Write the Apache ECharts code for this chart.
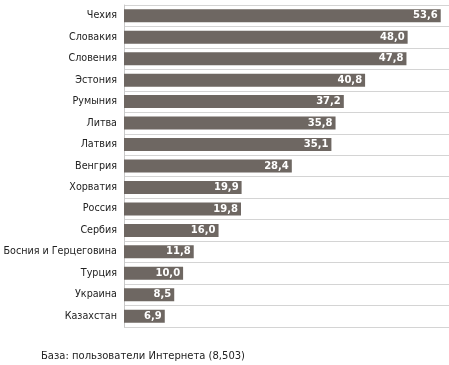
<!DOCTYPE html>
<html><head><meta charset="utf-8">
<script src="https://cdn.jsdelivr.net/npm/echarts@6/dist/echarts.min.js"></script>
<style>html,body{margin:0;padding:0;background:#fff}#c{width:449px;height:365px}</style>
</head><body><div id="c"></div>
<script>
const categories = ["Чехия","Словакия","Словения","Эстония","Румыния","Литва","Латвия","Венгрия","Хорватия","Россия","Сербия","Босния и Герцеговина","Турция","Украина","Казахстан"];
const values = [53.6,48.0,47.8,40.8,37.2,35.8,35.1,28.4,19.9,19.8,16.0,11.8,10.0,8.5,6.9];
const footnote = "База: пользователи Интернета (8,503)";

const chart = echarts.init(document.getElementById('c'), null, {renderer:'canvas'});
chart.setOption({
  animation:false,
  grid:{left:124, top:5, width:325, height:322, containLabel:false, outerBoundsMode:'none'},
  xAxis:{type:'value', min:0, max:55, show:false},
  yAxis:{type:'category', inverse:true, data:categories,
    axisLine:{show:true, lineStyle:{color:'#c8c8c8', width:1}},
    axisTick:{show:false},
    axisLabel:{color:'#222', fontFamily:'DejaVu Sans', fontSize:9.6, margin:7},
    splitLine:{show:true, lineStyle:{color:'#d4d4d4', width:1}}
  },
  series:[{type:'bar', data:values, barWidth:13,
    itemStyle:{color:'#6e6762'},
    label:{show:true, position:'insideRight', distance:3, color:'#fff', fontWeight:'bold', fontFamily:'DejaVu Sans', fontSize:10,
      formatter:p=>p.value.toFixed(1).replace('.',',')}
  }],
  graphic:[{type:'text', left:41, top:351, style:{text:footnote, fill:'#222', font:'10px DejaVu Sans'}}]
});
</script></body></html>
